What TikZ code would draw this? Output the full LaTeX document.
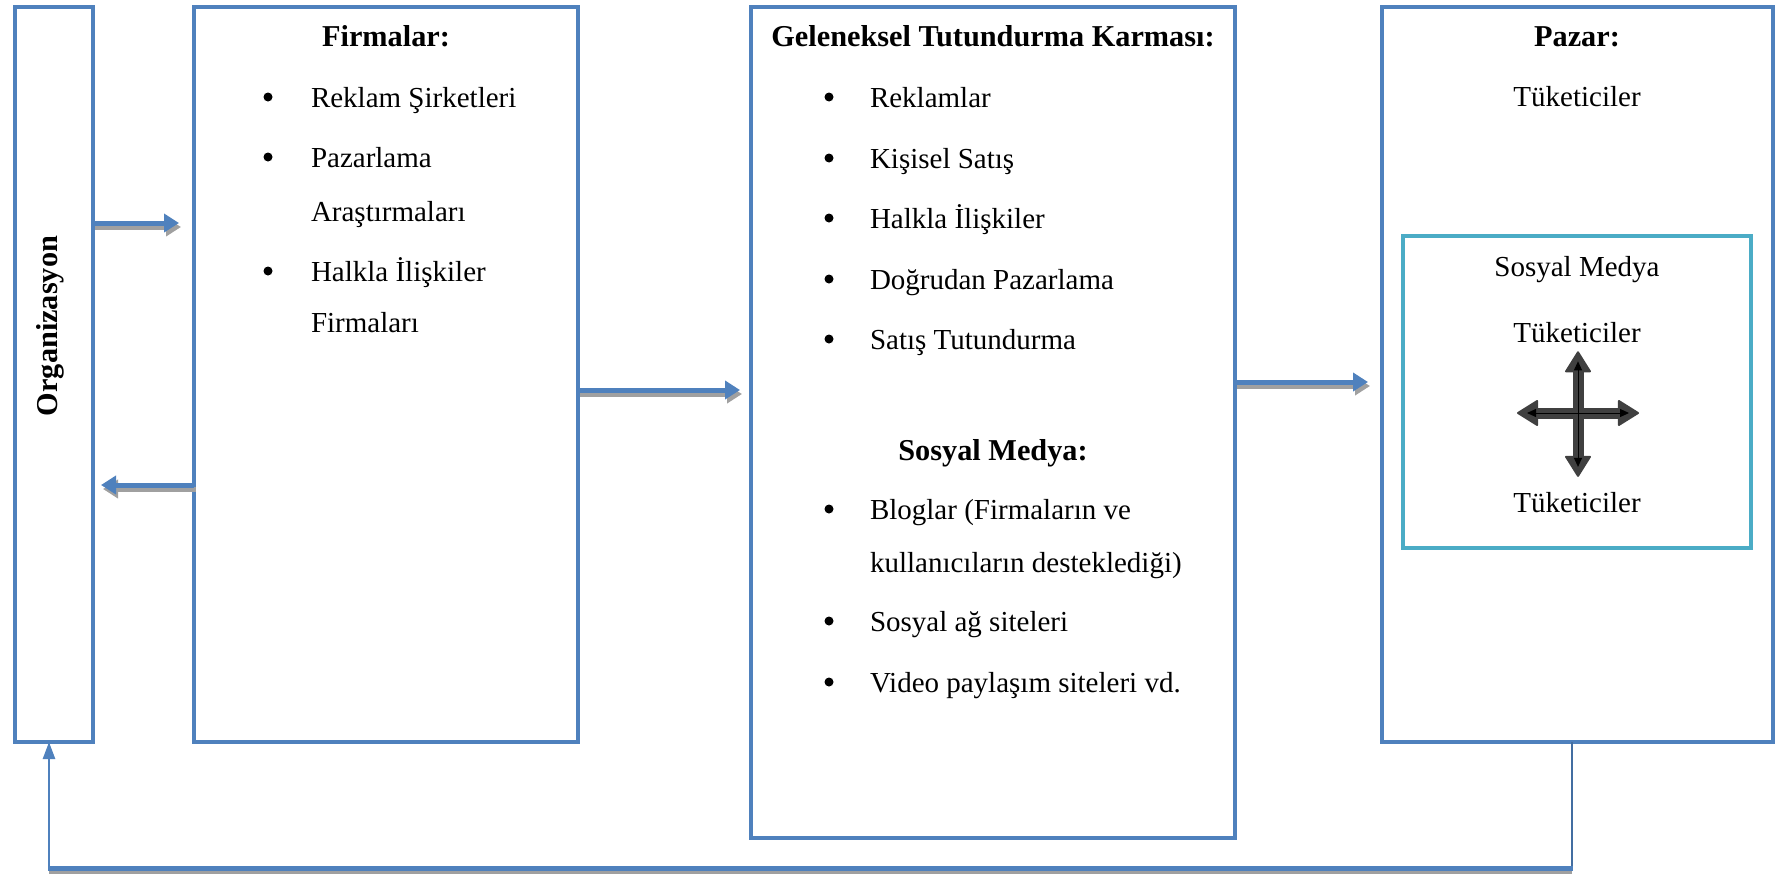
\documentclass[tikz,border=0pt]{standalone}
\usepackage{fontspec}
\setmainfont{Liberation Serif}
\usetikzlibrary{arrows.meta,calc}
\definecolor{boxblue}{HTML}{4F81BD}
\definecolor{aqua}{HTML}{4BACC6}
\definecolor{shadowgray}{HTML}{A0A0A0}
\definecolor{crossgray}{HTML}{404040}
\newcommand\dgfont{\fontsize{29}{34}\selectfont}
\newcommand\dgbold{\fontsize{30.3}{35}\selectfont\bfseries}
\begin{document}
\begin{tikzpicture}[x=1pt,y=-1pt,
  box/.style={draw=boxblue, line width=4.5pt, inner sep=0pt, outer sep=0pt},
  txt/.style={inner sep=0pt, outer sep=0pt, font=\dgfont, anchor=base west},
  ttl/.style={inner sep=0pt, outer sep=0pt, font=\dgbold, anchor=base},
  ctr/.style={inner sep=0pt, outer sep=0pt, font=\dgfont, anchor=base},
  bul/.style={circle, fill=black, inner sep=0pt, outer sep=0pt, minimum size=9pt},
  flow/.style={draw=boxblue, line width=5pt, -{Triangle[length=15pt,width=18pt]}},
  flowshadow/.style={draw=shadowgray, line width=5pt, -{Triangle[length=15pt,width=18pt]}, transform canvas={shift={(2pt,-4pt)}}},
  crossbig/.style={draw=crossgray, line width=11pt, {Triangle[length=22pt,width=27pt,line width=2pt,round]}-{Triangle[length=22pt,width=27pt,line width=2pt,round]}},
  crosssmall/.style={draw=black, line width=1pt, {Triangle[length=9pt,width=8pt]}-{Triangle[length=9pt,width=8pt]}}
]
\useasboundingbox (0,0) rectangle (1776,873);

% boxes
\node[box, minimum width=78pt, minimum height=735pt] (org) at (54,374.5) {};
\node[box, minimum width=384pt, minimum height=735pt] (firm) at (386,374.5) {};
\node[box, minimum width=484pt, minimum height=831pt] (gel) at (993,422.5) {};
\node[box, minimum width=391pt, minimum height=735pt] (paz) at (1577.5,374.5) {};
\node[draw=aqua, line width=4pt, inner sep=0pt, outer sep=0pt, minimum width=348pt, minimum height=312pt] (sm) at (1577,392) {};

% Organizasyon
\node[inner sep=0pt, font=\dgbold, rotate=90] (orgt) at (50,326) {Organizasyon};

% Firmalar
\node[ttl] (firmt) at (386,46) {Firmalar:};
\node[bul] (fb1) at (268,97) {};
\node[txt] (f1) at (311,107) {Reklam Şirketleri};
\node[bul] (fb2) at (268,157) {};
\node[txt] (f2) at (311,167) {Pazarlama};
\node[txt] (f2b) at (311,221) {Araştırmaları};
\node[bul] (fb3) at (268,271) {};
\node[txt] (f3) at (311,281) {Halkla İlişkiler};
\node[txt] (f3b) at (311,332) {Firmaları};

% Geleneksel
\node[ttl] (gelt) at (993,46) {Geleneksel Tutundurma Karması:};
\node[bul] (gb1) at (829,97) {};
\node[txt] (g1) at (870,107) {Reklamlar};
\node[bul] (gb2) at (829,158) {};
\node[txt] (g2) at (870,168) {Kişisel Satış};
\node[bul] (gb3) at (829,218) {};
\node[txt] (g3) at (870,228) {Halkla İlişkiler};
\node[bul] (gb4) at (829,279) {};
\node[txt] (g4) at (870,289) {Doğrudan Pazarlama};
\node[bul] (gb5) at (829,339) {};
\node[txt] (g5) at (870,349) {Satış Tutundurma};
\node[ttl] (smt) at (993,460) {Sosyal Medya:};
\node[bul] (sb1) at (829,509) {};
\node[txt] (s1) at (870,519) {Bloglar (Firmaların ve};
\node[txt] (s1b) at (870,572) {kullanıcıların desteklediği)};
\node[bul] (sb2) at (829,621) {};
\node[txt] (s2) at (870,631) {Sosyal ağ siteleri};
\node[bul] (sb3) at (829,682) {};
\node[txt] (s3) at (870,692) {Video paylaşım siteleri vd.};

% Pazar
\node[ttl] (pazt) at (1577,46) {Pazar:};
\node[ctr] (pazc) at (1577,106) {Tüketiciler};
\node[ctr] (smh) at (1577,276) {Sosyal Medya};
\node[ctr] (tu1) at (1577,342) {Tüketiciler};
\node[ctr] (tu2) at (1577,512) {Tüketiciler};

% flow arrows
\coordinate (r1) at (0,223);
\coordinate (r2) at (0,485);
\coordinate (r3) at (0,390);
\coordinate (r4) at (0,382);
\draw[flowshadow, shorten >=15pt] (org.east |- r1) -- (firm.west |- r1);
\draw[flow, shorten >=15pt] (org.east |- r1) -- (firm.west |- r1);
\draw[flowshadow, shorten >=8pt] (firm.west |- r2) -- (org.east |- r2);
\draw[flow, shorten >=8pt] (firm.west |- r2) -- (org.east |- r2);
\draw[flowshadow, shorten >=11pt] (firm.east |- r3) -- (gel.west |- r3);
\draw[flow, shorten >=11pt] (firm.east |- r3) -- (gel.west |- r3);
\draw[flowshadow, shorten >=14pt] (gel.east |- r4) -- (paz.west |- r4);
\draw[flow, shorten >=14pt] (gel.east |- r4) -- (paz.west |- r4);

% feedback line
\coordinate (fbR) at (1572,868);
\coordinate (fbL) at (49,868);
\draw[boxblue!85!black, line width=2pt] (paz.south -| fbR) -- (fbR);
\draw[shadowgray, line width=5pt, transform canvas={shift={(0pt,-3pt)}}] (fbR) -- (fbL);
\draw[boxblue, line width=5pt] ([xshift=1pt]fbR) -- ([xshift=-1.5pt]fbL);
\draw[boxblue, line width=2.5pt, -{Triangle[length=17pt,width=12pt]}] (fbL) -- (fbL |- org.south);

% cross arrows
\coordinate (cc) at (1578,413);
\draw[crossbig] ($(cc)+(-61,0)$) -- ($(cc)+(61,0)$);
\draw[crossbig, shorten <=9pt, shorten >=15pt] (tu1.south -| cc) -- (tu2.north -| cc);
\draw[crosssmall] ($(cc)+(-51,0)$) -- ($(cc)+(51,0)$);
\draw[crosssmall, shorten <=19pt, shorten >=25pt] (tu1.south -| cc) -- (tu2.north -| cc);
\end{tikzpicture}
\end{document}
